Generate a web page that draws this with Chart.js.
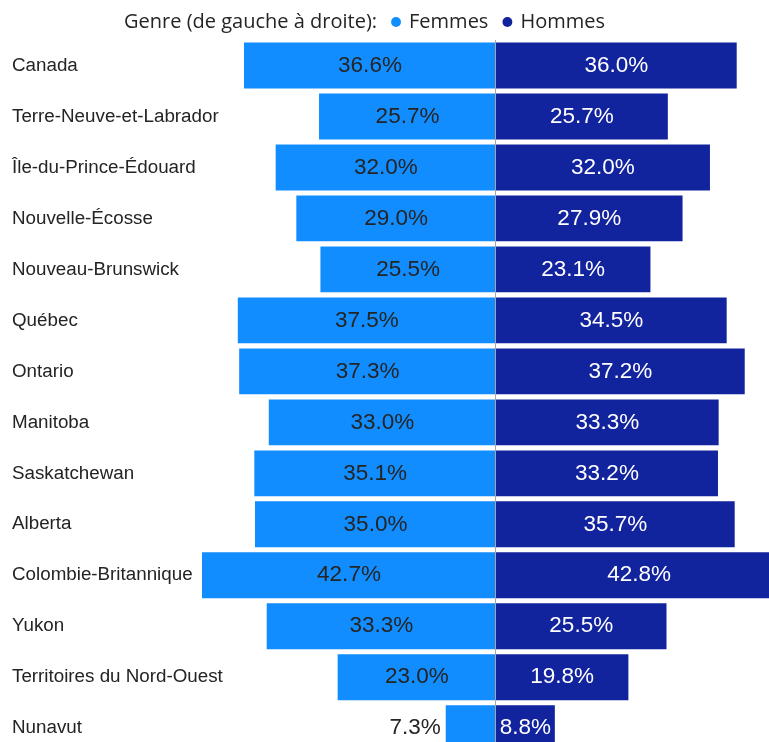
<!DOCTYPE html>
<html lang="fr">
<head>
<meta charset="utf-8">
<title>Genre par province</title>
<script src="https://cdn.jsdelivr.net/npm/chart.js@4.4.1/dist/chart.umd.min.js"></script>
<style>
  html, body { margin: 0; padding: 0; background: #fff; overflow: hidden; }
</style>
</head>
<body>
<canvas id="chart" width="769" height="765"></canvas>
<script>
// provinces / territoires (one row each)
const provinces = [
	'Canada', 'Terre-Neuve-et-Labrador', 'Île-du-Prince-Édouard', 'Nouvelle-Écosse',
	'Nouveau-Brunswick', 'Québec', 'Ontario', 'Manitoba', 'Saskatchewan', 'Alberta',
	'Colombie-Britannique', 'Yukon', 'Territoires du Nord-Ouest', 'Nunavut',
];
// percentages, left side
const femmes = [36.6, 25.7, 32.0, 29.0, 25.5, 37.5, 37.3, 33.0, 35.1, 35.0, 42.7, 33.3, 23.0, 7.3];
// percentages, right side
const hommes = [36.0, 25.7, 32.0, 27.9, 23.1, 34.5, 37.2, 33.3, 33.2, 35.7, 42.8, 25.5, 19.8, 8.8];
// series names + legend heading
const seriesNames = ['Femmes', 'Hommes'];
const legendHeading = 'Genre (de gauche à droite):';

const colors = ['#118DFF', '#12239E'];
const labelColors = ['#252423', '#ffffff'];
const textColor = '#252423';

// axis ranges of each half (left half is a bit wider per %)
const leftMax = 37.18;
const rightMax = 40.83;

//Draw the value labels and the thin centre line
const barLabels = {
	id: 'barLabels',
	afterDatasetsDraw(chart) {
		const { ctx, chartArea } = chart;
		ctx.save();
		ctx.font = '22.5px "Liberation Sans", Arial, sans-serif';
		ctx.textBaseline = 'middle';
		chart.data.datasets.forEach((ds, i) => {
			chart.getDatasetMeta(i).data.forEach((bar, j) => {
				const text = ds.data[j].toFixed(1) + '%';
				const w = ctx.measureText(text).width;
				const size = Math.abs(bar.x - bar.base);
				if (w + 4 > size) {
					// does not fit: put it outside the end of the bar
					ctx.fillStyle = textColor;
					ctx.textAlign = i === 0 ? 'right' : 'left';
					ctx.fillText(text, i === 0 ? bar.x - 5 : bar.x + 5, bar.y);
				} else {
					ctx.fillStyle = labelColors[i];
					ctx.textAlign = 'center';
					ctx.fillText(text, (bar.x + bar.base) / 2, bar.y);
				}
			});
		});
		const x0 = Math.round(chart.scales.xH.getPixelForValue(0)) - 0.5;
		ctx.strokeStyle = '#a6a6a6';
		ctx.lineWidth = 1;
		ctx.beginPath();
		ctx.moveTo(x0, chartArea.top);
		ctx.lineTo(x0, chartArea.bottom);
		ctx.stroke();
		ctx.restore();
	},
};

// the legend in the reference sits left of centre and a bit lower
const legendShift = {
	id: 'legendShift',
	afterLayout(chart) {
		chart.legend.left -= 34;
		chart.legend.right -= 34;
		chart.legend.top += 2;
		chart.legend.bottom += 2;
	},
};

let chart = new Chart(document.getElementById('chart'), {
	type: 'bar',
	plugins: [barLabels, legendShift],
	data: {
		labels: provinces,
		datasets: [
			{ label: seriesNames[0], data: femmes, backgroundColor: colors[0], xAxisID: 'xF', clip: false },
			{ label: seriesNames[1], data: hommes, backgroundColor: colors[1], xAxisID: 'xH', clip: false },
		],
	},
	options: {
		indexAxis: 'y',
		responsive: false,
		animation: false,
		grouped: false,
		barPercentage: 0.9,
		categoryPercentage: 1,
		layout: { padding: { top: -6, left: 12, right: 0, bottom: 0 } },
		scales: {
			y: {
				grid: { display: false },
				border: { display: false },
				ticks: {
					crossAlign: 'far',
					padding: 0,
					color: textColor,
					font: { family: '"Liberation Sans", Arial, sans-serif', size: 18.8 },
				},
				afterFit: (scale) => { scale.width = 228; },
			},
			// two x axes side by side: femmes (reversed) then hommes
			xF: {
				type: 'linear', position: 'bottom', stack: 'x', stackWeight: 256,
				reverse: true, min: 0, max: leftMax, display: false,
			},
			xH: {
				type: 'linear', position: 'bottom', stack: 'x', stackWeight: 273,
				min: 0, max: rightMax, display: false,
			},
		},
		plugins: {
			tooltip: { enabled: false },
			legend: {
				position: 'top',
				onClick: () => {},
				labels: {
					usePointStyle: true,
					boxWidth: 6,
					boxHeight: 7,
					padding: 16,
					color: textColor,
					font: { family: '"Open Sans", sans-serif', size: 20 },
					generateLabels: (c) => [
						{ text: legendHeading, fillStyle: 'rgba(0,0,0,0)', strokeStyle: 'rgba(0,0,0,0)', lineWidth: 0, pointStyle: 'circle', hidden: false, fontColor: textColor },
						...c.data.datasets.map((ds, i) => ({
							text: ds.label, fillStyle: ds.backgroundColor, strokeStyle: ds.backgroundColor,
							lineWidth: 0, pointStyle: 'circle', hidden: false, datasetIndex: i, fontColor: textColor,
						})),
					],
				},
			},
		},
	},
});
</script>
</body>
</html>
